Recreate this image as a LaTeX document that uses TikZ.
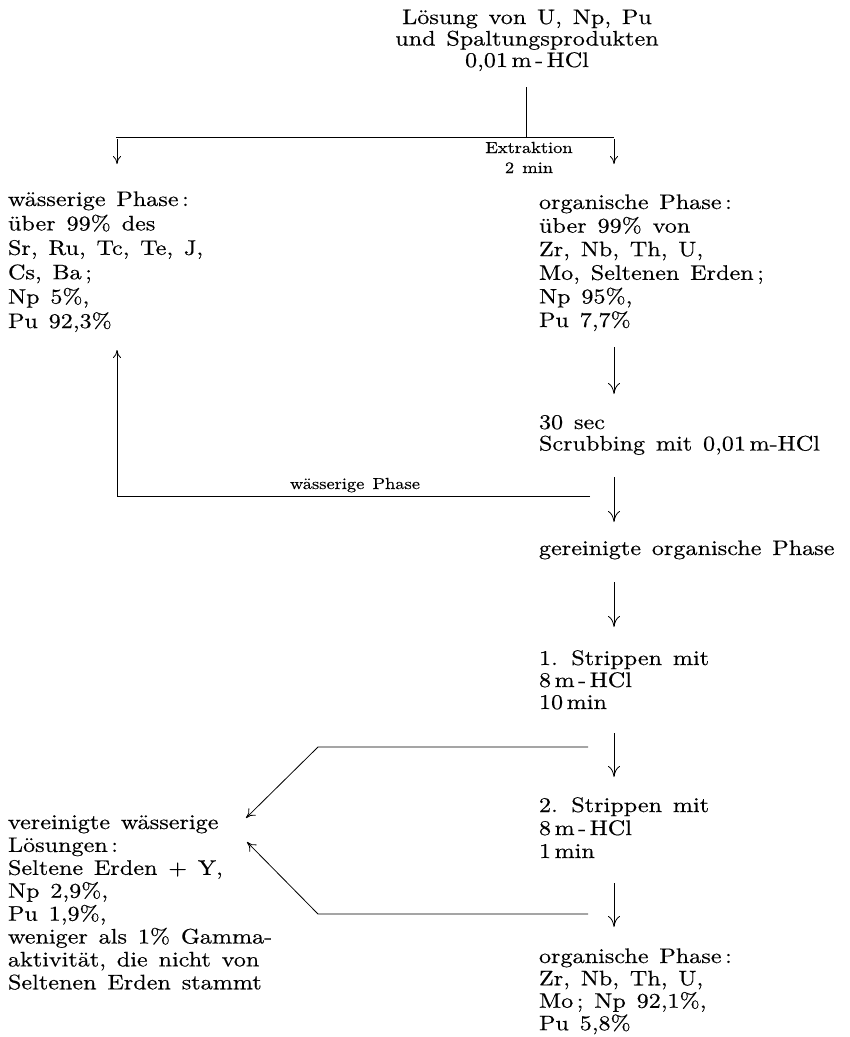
\documentclass[tikz,border=0pt]{standalone}
\usepackage{fontspec}
\setmainfont{lmroman10-regular.otf}[FakeStretch=1.15, WordSpace=1.35, FakeBold=0.4]
\usetikzlibrary{arrows.meta}
\newcommand{\leftlines}[1]{\begin{tabular}[t]{@{}l@{}}#1\end{tabular}}
\newcommand{\centerlines}[1]{\begin{tabular}[t]{@{}c@{}}#1\end{tabular}}
\tikzset{
  txt/.style={inner sep=0pt, outer sep=0pt, font=\fontsize{21}{#1}\selectfont},
  txt/.default=23.5,
  small/.style={inner sep=0pt, outer sep=0pt, font=\fontsize{16}{20}\selectfont},
  line/.style={line width=0.8pt},
  arr/.style={line, -{Computer Modern Rightarrow[length=11pt,width=12pt,line width=0.8pt]}},
  arrmid/.style={line, -{Computer Modern Rightarrow[length=9pt,width=10pt,line width=0.8pt]}},
  arrsmall/.style={line, -{Computer Modern Rightarrow[length=8pt,width=8pt,line width=0.8pt]}},
}
\begin{document}
\begin{tikzpicture}[x=1pt,y=-1pt]
\fill[white] (0,0) rectangle (850,1037);
\useasboundingbox (0,0) rectangle (850,1037);

% text blocks
\node[txt=21.5, anchor=base] (title) at (527,24)
  {\centerlines{Lösung von U, Np, Pu\\ und Spaltungsprodukten\\ 0,01\,m\,-\,HCl}};
\node[small, anchor=base] (extr) at (529,153) {\centerlines{Extraktion\\2 min}};
\node[txt=24.4, anchor=base west] (wq) at (8,206)
  {\leftlines{wässerige Phase\,:\\über 99\% des\\Sr, Ru, Tc, Te, J,\\Cs, Ba\,;\\Np 5\%,\\Pu 92,3\%}};
\node[txt=23.6, anchor=base west] (org) at (539,209)
  {\leftlines{organische Phase\,:\\über 99\% von\\Zr, Nb, Th, U,\\Mo, Seltenen Erden\,;\\Np 95\%,\\Pu 7,7\%}};
\node[txt=21.5, anchor=base west] (scrub) at (539,429)
  {\leftlines{30 sec\\Scrubbing mit 0,01\,m-HCl}};
\node[small, anchor=base] (wlabel) at (355,489) {wässerige Phase};
\node[txt, anchor=base west] (gerein) at (539,555) {gereinigte organische Phase};
\node[txt=22, anchor=base west] (strip1) at (539,665)
  {\leftlines{1. Strippen mit\\8\,m\,-\,HCl\\10\,min}};
\node[txt=23, anchor=base west] (strip2) at (539,812)
  {\leftlines{2. Strippen mit\\8\,m\,-\,HCl\\1\,min}};
\node[txt=22.3, anchor=base west] (orgend) at (539,963)
  {\leftlines{organische Phase\,:\\Zr, Nb, Th, U,\\Mo\,; Np 92,1\%,\\Pu 5,8\%}};
\node[txt=22.9, anchor=base west] (ver) at (8,829)
  {\leftlines{vereinigte wässerige\\Lösungen\,:\\Seltene Erden + Y,\\Np 2,9\%,\\Pu 1,9\%,\\weniger als 1\% Gamma-\\aktivität, die nicht von\\Seltenen Erden stammt}};

% connector points
\coordinate (s0) at (526,87);
\coordinate (s1) at (526,137);
\coordinate (sl) at (116,137);
\coordinate (sr) at (614,137);
\coordinate (aL0) at (117,139);
\coordinate (aL1) at (117,164);
\coordinate (aR0) at (614,139);
\coordinate (aR1) at (614,164);
\coordinate (o0) at (614,347);
\coordinate (o1) at (614,394);
\coordinate (r0) at (590,496);
\coordinate (r1) at (117,496);
\coordinate (r2) at (117,350);
\coordinate (c0) at (614,477);
\coordinate (c1) at (614,522);
\coordinate (g0) at (614,582);
\coordinate (g1) at (614,627);
\coordinate (p0) at (614,733);
\coordinate (p1) at (614,777);
\coordinate (q0) at (614,883);
\coordinate (q1) at (614,927);
\coordinate (u0) at (588,747);
\coordinate (u1) at (318,747);
\coordinate (u2) at (246,818);
\coordinate (d0) at (588,914);
\coordinate (d1) at (318,914);
\coordinate (d2) at (247,842);

% connectors
\draw[line] (s0) -- (s1);
\draw[line] (sl) -- (sr);
\draw[arrsmall] (aL0) -- (aL1);
\draw[arrsmall] (aR0) -- (aR1);
\draw[arr] (o0) -- (o1);
\draw[arrsmall] (r0) -- (r1) -- (r2);
\draw[arr] (c0) -- (c1);
\draw[arr] (g0) -- (g1);
\draw[arr] (p0) -- (p1);
\draw[arr] (q0) -- (q1);
\draw[arrmid] (u0) -- (u1) -- (u2);
\draw[arrmid] (d0) -- (d1) -- (d2);
\end{tikzpicture}
\end{document}
